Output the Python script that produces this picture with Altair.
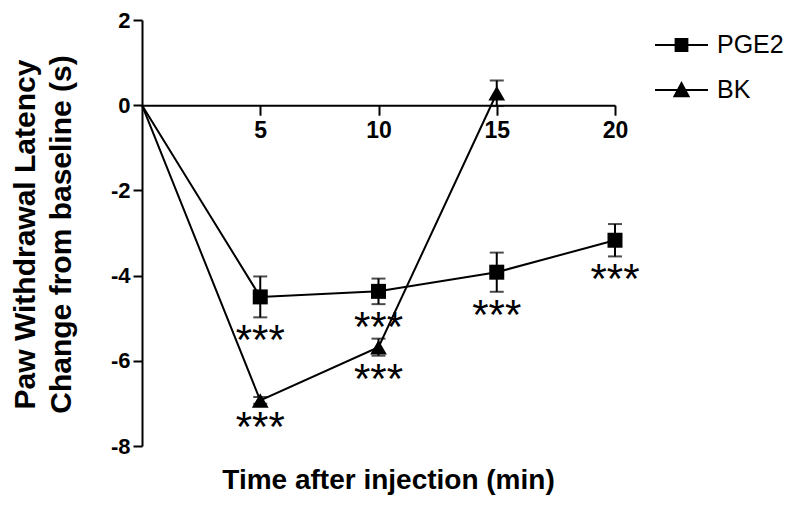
import altair as alt
import pandas as pd

# ---- data ----
series_names = ["PGE2", "BK"]

pge2_time = [0, 5, 10, 15, 20]
pge2_mean = [0.0, -4.50, -4.37, -3.92, -3.17]
pge2_sem = [0.0, 0.48, 0.30, 0.46, 0.38]
pge2_sig = ["", "***", "***", "***", "***"]

bk_time = [0, 5, 10, 15]
bk_mean = [0.0, -6.93, -5.68, 0.28]
bk_sem = [0.0, 0.08, 0.20, 0.30]
bk_sig = ["", "***", "***", ""]

x_ticks = [5, 10, 15, 20]
y_ticks = [-8, -6, -4, -2, 0, 2]
x_title = "Time after injection (min)"
y_title = ["Paw Withdrawal Latency", "Change from baseline (s)"]

# ---- table ----
rows = []
for name, t, m, s, g in [("PGE2", pge2_time, pge2_mean, pge2_sem, pge2_sig),
                         ("BK", bk_time, bk_mean, bk_sem, bk_sig)]:
    for i in range(len(t)):
        rows.append(dict(series=name, time=t[i], mean=m[i], lo=m[i] - s[i],
                         hi=m[i] + s[i], sig=g[i], idx=i))
df = pd.DataFrame(rows)

FONT = "Liberation Sans"
W, H = 473, 426
TOP = 12
y_dom = [-8, 2]
zero_px = H * (y_dom[1] - 0) / (y_dom[1] - y_dom[0])

x_enc = alt.X(
    "time:Q",
    scale=alt.Scale(domain=[0, 20], nice=False, zero=False),
    axis=alt.Axis(
        values=x_ticks, offset=-(H - zero_px), tickSize=10, tickWidth=2,
        tickColor="black", domainColor="black", domainWidth=2, grid=False,
        labelFont=FONT, labelFontSize=23, labelFontWeight="bold",
        labelColor="black", labelPadding=4, labelFlush=False,
        labelExpr="'' + datum.value",
        title=x_title, titleFont=FONT, titleFontSize=28, titleFontWeight="bold",
        titleColor="black", titleX=246, titleY=383, titleAlign="center",
        titleBaseline="alphabetic",
    ),
)
y_enc = alt.Y(
    "mean:Q",
    scale=alt.Scale(domain=y_dom, nice=False, zero=False),
    axis=alt.Axis(
        values=y_ticks, tickSize=9, tickWidth=2, tickColor="black",
        domainColor="black", domainWidth=2, grid=False,
        labelFont=FONT, labelFontSize=22, labelFontWeight="bold",
        labelColor="black", labelPadding=3, labelFlush=False,
        labelExpr="'' + datum.value",
        title=y_title, titleFont=FONT, titleFontSize=30, titleFontWeight="bold",
        titleColor="black", titleX=-117, titleY=214, titleAngle=270,
        titleAlign="center", titleBaseline="middle", titleLineHeight=36,
    ),
)

base = alt.Chart(df)

lines = base.mark_line(color="black", strokeWidth=2).encode(
    x=x_enc, y=y_enc, detail="series:N", order="time:Q"
)

nz = base.transform_filter("datum.idx > 0")
err = nz.mark_rule(color="black", strokeWidth=2).encode(
    x="time:Q", y="lo:Q", y2="hi:Q"
)
cap_hi = nz.mark_tick(orient="horizontal", size=14, thickness=2, color="black").encode(
    x="time:Q", y="hi:Q"
)
cap_lo = nz.mark_tick(orient="horizontal", size=14, thickness=2, color="black").encode(
    x="time:Q", y="lo:Q"
)

squares = nz.transform_filter("datum.series == 'PGE2'").mark_point(
    shape="square", filled=True, size=225, color="black", opacity=1
).encode(x="time:Q", y="mean:Q")
triangles = nz.transform_filter("datum.series == 'BK'").mark_point(
    shape="triangle-up", filled=True, size=280, color="black", opacity=1
).encode(x="time:Q", y="mean:Q")

stars = base.transform_filter("datum.sig != ''").mark_text(
    font=FONT, fontSize=42, color="black", align="center",
    baseline="alphabetic", dy=37
).encode(x="time:Q", y="lo:Q", text="sig:N")

bar = "M-1,-0.04H1V0.04H-1Z"
sq_path = bar + "M-0.26,-0.26H0.26V0.26H-0.26Z"
tri_path = bar + "M0,-0.34L0.33,0.27H-0.33Z"
legend_layer = base.mark_point(
    filled=True, color="black", opacity=0, size=2809
).encode(
    x="time:Q", y="mean:Q",
    shape=alt.Shape(
        "series:N",
        scale=alt.Scale(domain=series_names, range=[sq_path, tri_path]),
        legend=alt.Legend(
            title=None, orient="none", legendX=513, legendY=45 - 15 - 8 - TOP,
            padding=0, symbolSize=2809, symbolOpacity=1,
            symbolFillColor="black", symbolStrokeWidth=0,
            labelFont=FONT, labelFontSize=25, labelColor="black",
            labelOffset=9, clipHeight=30, rowPadding=15,
        ),
    ),
)

chart = alt.layer(
    lines, err, cap_hi, cap_lo, squares, triangles, stars, legend_layer
).properties(
    width=W, height=H,
    autosize=alt.AutoSizeParams(type="none"),
    padding={"left": 134, "top": TOP, "right": 177, "bottom": 494 - TOP - H},
    background="white",
).configure_view(stroke=None)

chart.save("out.html", embed_options={"renderer": "svg", "actions": False})
